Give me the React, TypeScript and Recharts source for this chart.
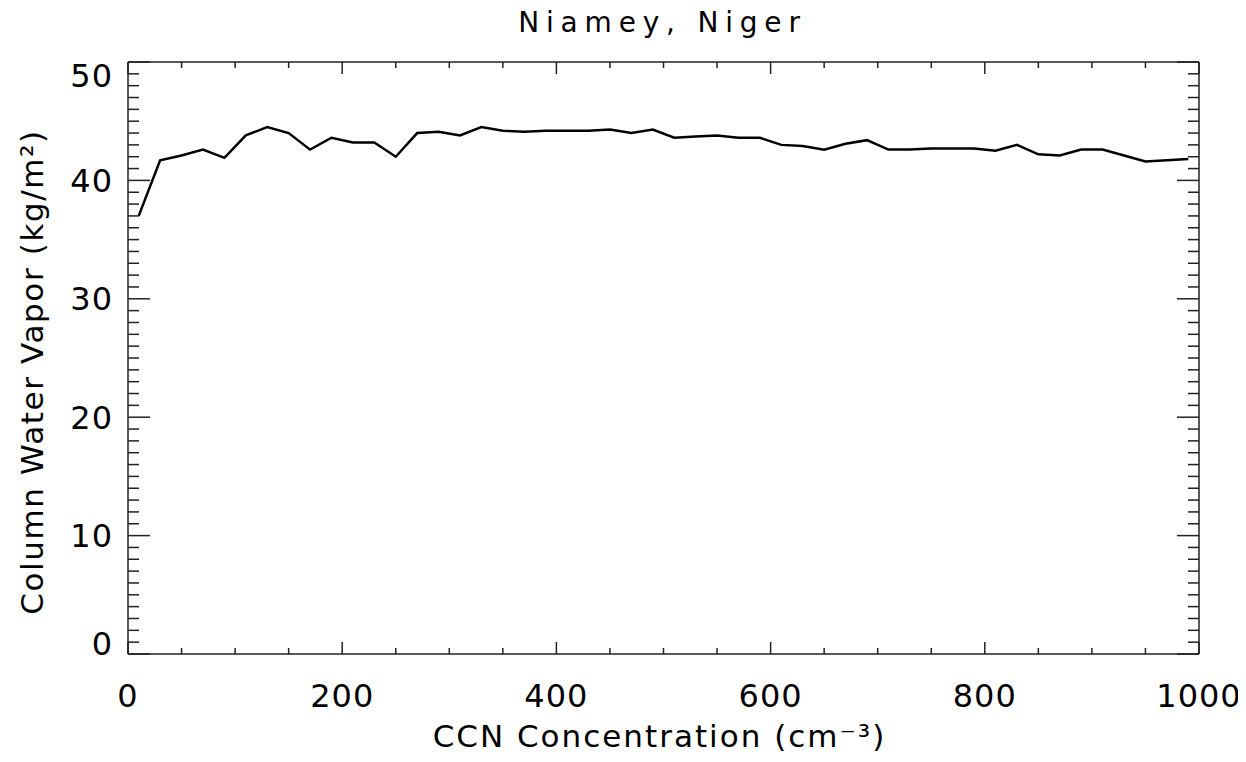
import React from "react";
import { LineChart, Line, XAxis, YAxis } from "recharts";

const ccnCenters = [
  10, 30, 50, 70, 90, 110, 130, 150, 170, 190,
  210, 230, 250, 270, 290, 310, 330, 350, 370, 390,
  410, 430, 450, 470, 490, 510, 530, 550, 570, 590,
  610, 630, 650, 670, 690, 710, 730, 750, 770, 790,
  810, 830, 850, 870, 890, 910, 930, 950, 970, 990,
];
const waterVapor = [
  37.0, 41.7, 42.1, 42.6, 41.9, 43.8, 44.5, 44.0, 42.6, 43.6,
  43.2, 43.2, 42.0, 44.0, 44.1, 43.8, 44.5, 44.2, 44.1, 44.2,
  44.2, 44.2, 44.3, 44.0, 44.3, 43.6, 43.7, 43.8, 43.6, 43.6,
  43.0, 42.9, 42.6, 43.1, 43.4, 42.6, 42.6, 42.7, 42.7, 42.7,
  42.5, 43.0, 42.2, 42.1, 42.6, 42.6, 42.1, 41.6, 41.7, 41.8,
];
const xTicks = [
  0, 50, 100, 150, 200, 250, 300, 350, 400, 450, 500,
  550, 600, 650, 700, 750, 800, 850, 900, 950, 1000,
];
const yTicks = [
  0, 1, 2, 3, 4, 5, 6, 7, 8, 9, 10, 11, 12, 13, 14, 15, 16, 17, 18, 19,
  20, 21, 22, 23, 24, 25, 26, 27, 28, 29, 30, 31, 32, 33, 34, 35, 36, 37, 38, 39,
  40, 41, 42, 43, 44, 45, 46, 47, 48, 49, 50,
];
const title = "Niamey, Niger";
const xLabel = "CCN Concentration (cm\u207B\u00B3)";
const yLabel = "Column Water Vapor (kg/m\u00B2)";

const data = ccnCenters.map((c, i) => ({ ccn: c, cwv: waterVapor[i] }));

const FONT = "'DejaVu Sans', sans-serif";
const AXIS = "#222";

const LeftTick = (props: any) => {
  const { x, y, payload } = props;
  const v = payload.value;
  const major = v % 10 === 0;
  const len = major ? 22 : 11;
  let by = y + 11.5;
  if (v === 0) by = y + 1;
  if (v === 50) by = y + 25;
  return (
    <g>
      <line x1={x} x2={x + len} y1={y} y2={y} stroke={AXIS} strokeWidth={1.5} />
      {major && (
        <text x={x - 15} y={by} textAnchor="end" fontFamily={FONT} fontSize={32} fill="#000" letterSpacing={1}>
          {v}
        </text>
      )}
    </g>
  );
};

const RightTick = (props: any) => {
  const { x, y, payload } = props;
  const major = payload.value % 10 === 0;
  const len = major ? 22 : 11;
  return <line x1={x} x2={x - len} y1={y} y2={y} stroke={AXIS} strokeWidth={1.5} />;
};

const BottomTick = (props: any) => {
  const { x, y, payload } = props;
  const v = payload.value;
  const major = v % 200 === 0;
  const len = major ? 12 : 6;
  return (
    <g>
      <line x1={x} x2={x} y1={y} y2={y - len} stroke={AXIS} strokeWidth={1.5} />
      {major && (
        <text x={x} y={y + 53} textAnchor="middle" fontFamily={FONT} fontSize={32} fill="#000" letterSpacing={1}>
          {v}
        </text>
      )}
    </g>
  );
};

const TopTick = (props: any) => {
  const { x, y, payload } = props;
  const major = payload.value % 200 === 0;
  const len = major ? 12 : 6;
  return <line x1={x} x2={x} y1={y} y2={y + len} stroke={AXIS} strokeWidth={1.5} />;
};

const renderTitle = (props: any) => {
  const vb = props.viewBox;
  return (
    <text x={vb.x + vb.width / 2 - 1} y={vb.y + vb.height - 30} textAnchor="middle" fontFamily={FONT} fontSize={28} letterSpacing={6.8} fill="#000">
      {title}
    </text>
  );
};

const renderXLabel = (props: any) => {
  const vb = props.viewBox;
  return (
    <text x={vb.x + vb.width / 2 - 4} y={vb.y + 93} textAnchor="middle" fontFamily={FONT} fontSize={31} letterSpacing={2} fill="#000">
      {xLabel}
    </text>
  );
};

const renderYLabel = (props: any) => {
  const vb = props.viewBox;
  const cx = vb.x + vb.width - 85;
  const cy = vb.y + vb.height / 2 + 14;
  return (
    <text x={cx} y={cy} transform={`rotate(-90, ${cx}, ${cy})`} textAnchor="middle" fontFamily={FONT} fontSize={31} letterSpacing={1.6} fill="#000">
      {yLabel}
    </text>
  );
};

export default function App() {
  return (
    <div style={{ width: 1230, height: 746 }}>
      <style>{`.recharts-surface { overflow: visible; } .recharts-wrapper { overflow: visible; }`}</style>
      <LineChart
        width={1230}
        height={746}
        data={data}
        margin={{ top: 0, right: 0, bottom: 0, left: 40 }}
        style={{ background: "#fff" }}
      >
        <XAxis
          dataKey="ccn"
          type="number"
          domain={[0, 1000]}
          ticks={xTicks}
          interval={0}
          height={100}
          tickSize={0}
          tickMargin={0}
          tickLine={false}
          tick={<BottomTick />}
          axisLine={{ stroke: AXIS, strokeWidth: 1.5 }}
          allowDataOverflow
          label={renderXLabel}
        />
        <XAxis
          xAxisId="top"
          orientation="top"
          dataKey="ccn"
          type="number"
          domain={[0, 1000]}
          ticks={xTicks}
          interval={0}
          height={54}
          tickSize={0}
          tickMargin={0}
          tickLine={false}
          tick={<TopTick />}
          axisLine={{ stroke: AXIS, strokeWidth: 1.5 }}
          allowDataOverflow
          label={renderTitle}
        />
        <YAxis
          type="number"
          domain={[0, 50]}
          ticks={yTicks}
          interval={0}
          width={80}
          tickSize={0}
          tickMargin={0}
          tickLine={false}
          tick={<LeftTick />}
          axisLine={{ stroke: AXIS, strokeWidth: 1.5 }}
          allowDataOverflow
          label={renderYLabel}
        />
        <YAxis
          yAxisId="right"
          orientation="right"
          type="number"
          domain={[0, 50]}
          ticks={yTicks}
          interval={0}
          width={39}
          tickSize={0}
          tickMargin={0}
          tickLine={false}
          tick={<RightTick />}
          axisLine={{ stroke: AXIS, strokeWidth: 1.5 }}
          allowDataOverflow
        />
        <Line
          type="linear"
          dataKey="cwv"
          stroke="#000"
          strokeWidth={2.5}
          dot={false}
          activeDot={false}
          isAnimationActive={false}
        />
      </LineChart>
    </div>
  );
}
